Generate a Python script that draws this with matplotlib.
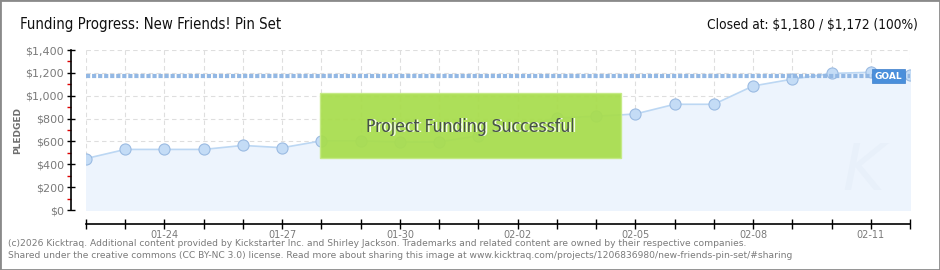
import numpy as np
import pandas as pd
import matplotlib
matplotlib.use('Agg')
import matplotlib.pyplot as plt
from matplotlib.ticker import MultipleLocator, FuncFormatter

# data
dates = pd.date_range('2026-01-22', '2026-02-12', freq='D')
pledged = [450, 530, 530, 530, 565, 545, 605, 605, 595, 595, 650, 730,
           805, 820, 840, 925, 925, 1085, 1145, 1195, 1205, 1180]
goal = 1172
closed_at = 1180
pct = 100
title = 'Funding Progress: New Friends! Pin Set'
footer = ['(c)2026 Kicktraq. Additional content provided by Kickstarter Inc. and Shirley Jackson. '
          'Trademarks and related content are owned by their respective companies.',
          'Shared under the creative commons (CC BY-NC 3.0) license. Read more about sharing this image at '
          'www.kicktraq.com/projects/1206836980/new-friends-pin-set/#sharing']

W, H = 940, 270
fig = plt.figure(figsize=(W / 100, H / 100), dpi=100)

# outer border
fig.patches.append(plt.Rectangle((0, 0), 1, 1, transform=fig.transFigure, fill=False,
                                 edgecolor='#8a8a8a', linewidth=2))

ax = fig.add_axes([86 / W, 1 - 210 / H, (910 - 86) / W, 160 / H])
x = np.arange(len(dates))

ax.fill_between(x, pledged, 0, color='#edf4fd', zorder=1)
ax.plot(x, pledged, '-', color='#bcd7f3', linewidth=1.2, zorder=3)
ax.plot(x, pledged, 'o', ms=8, mfc='#c4dcf6', mec='#9bbbe2', mew=0.8, zorder=4)

# faint watermark
ax.text(x[-1] - 1.2, 330, 'K', fontsize=46, color='#e8f0fa', ha='center', va='center',
        style='italic', zorder=2)

# goal line
ax.axhline(goal, color='#93b8e4', linewidth=3.0, linestyle=(0, (1.0, 0.45)), zorder=5)
ax.text(x[-1] - 0.2, goal, 'GOAL', fontsize=6.5, color='white', ha='right', va='center',
        fontweight='bold', zorder=7,
        bbox=dict(boxstyle='square,pad=0.3', fc='#4a8fdb', ec='#3d7fcc', lw=0.5))

ax.set_xlim(x[0], x[-1])
ax.set_ylim(0, 1400)

# grid
ax.grid(True, which='major', color='#dedede', linestyle=(0, (4, 3)), linewidth=0.8, zorder=0)
ax.set_axisbelow(True)

ax.xaxis.set_major_locator(MultipleLocator(1))
labels = [d.strftime('%m-%d') if i % 3 == 2 else '' for i, d in enumerate(dates)]
ax.xaxis.set_major_formatter(FuncFormatter(lambda v, p: labels[int(round(v))] if 0 <= round(v) < len(labels) else ''))
ax.yaxis.set_major_locator(MultipleLocator(200))
ax.yaxis.set_minor_locator(MultipleLocator(100))
ax.yaxis.set_major_formatter(FuncFormatter(lambda v, p: '${:,.0f}'.format(v)))

for s in ['top', 'right']:
    ax.spines[s].set_visible(False)
ax.spines['left'].set_position(('outward', 11))
ax.spines['bottom'].set_position(('outward', 10))
ax.spines['left'].set_linewidth(1.2)
ax.spines['bottom'].set_linewidth(1.2)

ax.tick_params(axis='x', which='major', direction='inout', length=7, width=1, colors='black',
               labelcolor='#7a7a7a', labelsize=7, pad=1)
ax.tick_params(axis='y', which='major', direction='inout', length=6, width=1, colors='black',
               labelcolor='#7a7a7a', labelsize=8, pad=2)
ax.tick_params(axis='y', which='minor', direction='out', length=3, width=1, colors='#dd0000')

ax.set_ylabel('PLEDGED', fontsize=6.5, color='#6e6e6e', fontweight='bold')
ax.yaxis.set_label_coords(-(86 - 22) / 824, 0.5)

# success banner
bx0, bx1 = (320 - 86) / 39.24, (621 - 86) / 39.24
ax.add_patch(plt.Rectangle((bx0, 455), bx1 - bx0, 1025 - 455, fc='#a8dd4e', ec='#c4ea84',
                           lw=1, alpha=0.94, zorder=6))
cx = (bx0 + bx1) / 2
ax.text(cx + 0.04, 722, 'Project Funding Successful', fontsize=12.5, color='#f4fbe8', ha='center',
        va='center', zorder=7, fontstretch='condensed')
ax.text(cx, 730, 'Project Funding Successful', fontsize=12.5, color='#46504b', ha='center',
        va='center', zorder=8, fontstretch='condensed')

# header
fig.text(20 / W, 1 - 25 / H, title, fontsize=10.7, color='#111111', va='center', ha='left',
         fontstretch='condensed')
fig.text(918 / W, 1 - 25 / H, 'Closed at: \\${:,} / \\${:,} ({}%)'.format(closed_at, goal, pct),
         fontsize=9.8, color='#111111', va='center', ha='right', fontstretch='condensed')

# footer
fig.text(8 / W, 1 - 243 / H, footer[0], fontsize=6.6, color='#7a7a7a', va='center', ha='left')
fig.text(8 / W, 1 - 255 / H, footer[1], fontsize=6.6, color='#7a7a7a', va='center', ha='left')

fig.savefig('out.png', dpi=100)
